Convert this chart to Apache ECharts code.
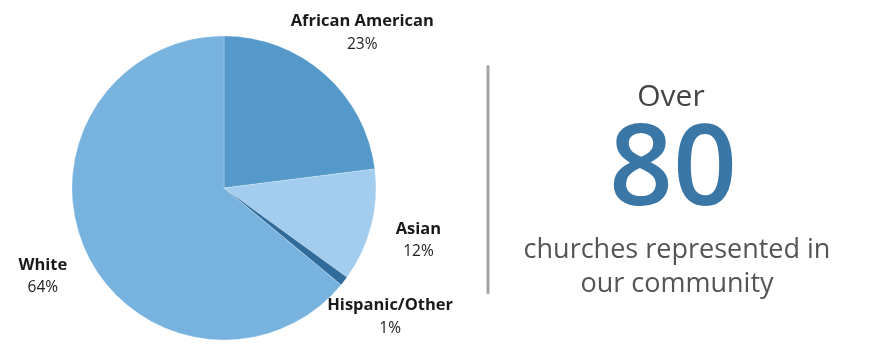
<!DOCTYPE html>
<html><head><meta charset="utf-8">
<script src="https://cdn.jsdelivr.net/npm/echarts@6/dist/echarts.min.js"></script>
<style>html,body{margin:0;padding:0;background:#fff}#c{width:870px;height:358px}</style>
</head><body><div id="c"></div>
<script>
const categories = ['African American', 'Asian', 'Hispanic/Other', 'White'];
const values = [23, 12, 1, 64];
const colors = ['#5499ca', '#a2cdef', '#2f6c9c', '#78b3df'];
const headline = 'Over';
const bigNumber = '80';
const caption = ['churches represented in', 'our community'];

const chart = echarts.init(document.getElementById('c'));
const pieData = categories.map((n, i) => ({ name: n, value: values[i], itemStyle: { color: colors[i] } }));
const font = '"Open Sans", sans-serif';
const labelShift = [[0, 1], [-8, 0], [1, 0], [8, -1]];
chart.setOption({
  animation: false,
  series: [
    {
      type: 'pie', center: [224, 188], radius: [0, 152], startAngle: 90, clockwise: true,
      data: pieData, label: { show: false }, labelLine: { show: false },
      itemStyle: { borderColor: 'rgba(255,255,255,0.4)', borderWidth: 0.6 },
      emphasis: { disabled: true }, silent: true
    },
    {
      type: 'pie', center: [224, 188], radius: [200, 212], startAngle: 90, clockwise: true,
      silent: true, emphasis: { disabled: true },
      data: categories.map((n, i) => ({ name: n, value: values[i] })),
      itemStyle: { color: 'rgba(0,0,0,0)' },
      label: {
        show: true, position: 'inside', rotate: 0,
        formatter: p => '{n|' + p.name + '}\n{v|' + p.value + '%}',
        rich: {
          n: { fontFamily: font, fontWeight: 'bold', fontSize: 16.5, color: '#1a1a1a', lineHeight: 24, align: 'center' },
          v: { fontFamily: font, fontSize: 15.5, color: '#222', lineHeight: 22, align: 'center' }
        }
      },
      labelLayout: p => ({ dx: labelShift[p.dataIndex][0], dy: labelShift[p.dataIndex][1] }),
      labelLine: { show: false }
    }
  ],
  graphic: [
    { type: 'rect', shape: { x: 486.5, y: 65, width: 3, height: 229, r: 1.5 }, style: { fill: '#a3a3a3' } },
    { type: 'text', x: 671, y: 97, style: { text: headline, font: '30px ' + font, fill: '#444', align: 'center', verticalAlign: 'middle' } },
    { type: 'text', x: 673, y: 173, style: { text: bigNumber, font: '600 112px ' + font, fill: '#3a76a6', align: 'center', verticalAlign: 'middle' } },
    { type: 'text', x: 677, y: 250, style: { text: caption[0], font: '27px ' + font, fill: '#555', align: 'center', verticalAlign: 'middle' } },
    { type: 'text', x: 677, y: 284, style: { text: caption[1], font: '27px ' + font, fill: '#555', align: 'center', verticalAlign: 'middle' } }
  ]
});
</script></body></html>
